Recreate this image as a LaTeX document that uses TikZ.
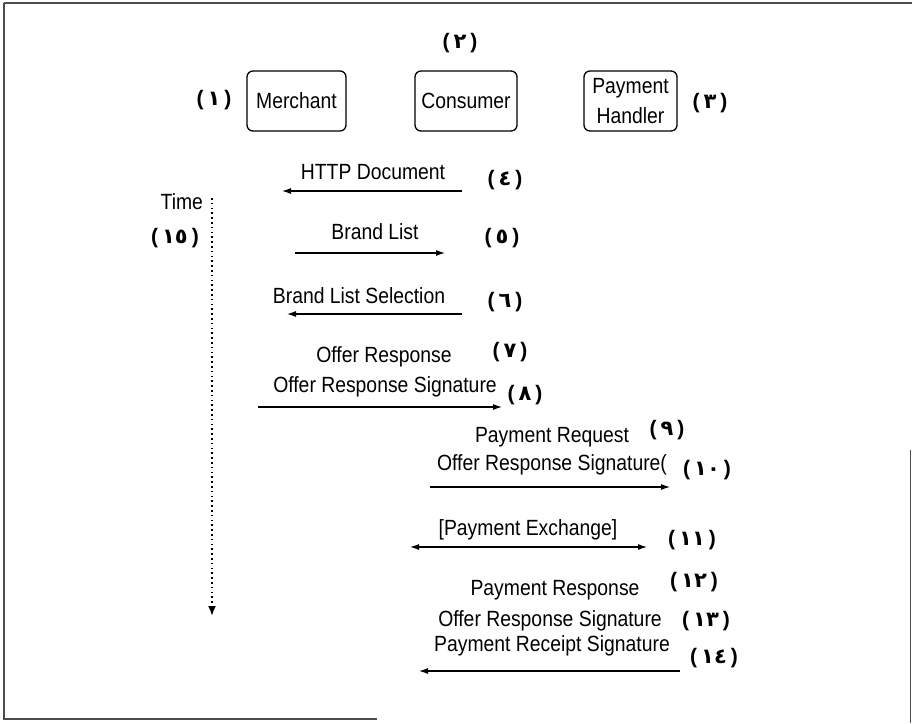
\documentclass[tikz,border=0pt]{standalone}
\usepackage{fontspec}
\setmainfont{Liberation Sans}
\newfontfamily\condfont[FakeStretch=0.88]{Liberation Sans}
\newfontfamily\labfont[Script=Arabic]{DejaVu Sans}
\usetikzlibrary{arrows.meta}
% numbered tag such as (12) in Arabic-Indic digits
\newcommand\tagnum[1]{\textbf{(}\hspace{4pt}{\labfont\bfseries #1}\hspace{4pt}\textbf{)}}
\begin{document}
\begin{tikzpicture}[x=1pt,y=-1pt,
  every node/.style={inner sep=0pt,outer sep=0pt},
  txt/.style={font=\condfont\fontsize{22}{25}\selectfont},
  tag/.style={font=\fontsize{21}{24}\selectfont},
  actor/.style={draw,line width=1.3pt,rounded corners=6pt,minimum height=60pt,align=center,font=\condfont\fontsize{22}{30}\selectfont},
  msg/.style={line width=1.1pt,-{Latex[length=9pt,width=6pt]}},
  both/.style={line width=1.1pt,{Latex[length=9pt,width=6pt]}-{Latex[length=9pt,width=6pt]}},
  frame/.style={line width=1.2pt,draw=black!70}]
\useasboundingbox (0,0) rectangle (912,723);
% page frame
\draw[frame] (4,3) -- (912,3);
\draw[frame] (4,3) -- (4,719) -- (377,719);
\draw[frame] (910.5,450) -- (910.5,723);

% participants
\node[actor,minimum width=99pt] (merchant) at (296.5,101) {Merchant};
\node[actor,minimum width=102pt] (consumer) at (466,101) {Consumer};
\node[actor,minimum width=93pt] (handler) at (630.5,101) {Payment\\Handler};
\node[tag] (t1) at (214,100) {\tagnum{١}};
\node[tag] (t2) at (460,43) {\tagnum{٢}};
\node[tag] (t3) at (710,103) {\tagnum{٣}};

% time axis
\node[txt,anchor=east] (time) at (203,202) {Time};
\node[tag] (t15) at (175,238) {\tagnum{١٥}};
\coordinate (ts) at (212,198);
\coordinate (te) at (212,616);
\draw[line width=1.8pt,dash pattern=on 1.6pt off 3.2pt,-{Latex[length=10pt,width=8pt]}] (ts) -- (te);

% messages
\node[txt] (m4) at (373,172) {HTTP Document};
\node[tag] (t4) at (505,180) {\tagnum{٤}};
\coordinate (a4s) at (462,191); \coordinate (a4e) at (282,191);
\draw[msg] (a4s) -- (a4e);

\node[txt] (m5) at (375,232) {Brand List};
\node[tag] (t5) at (502,238) {\tagnum{٥}};
\coordinate (a5s) at (295,253); \coordinate (a5e) at (445,253);
\draw[msg] (a5s) -- (a5e);

\node[txt] (m6) at (359,296) {Brand List Selection};
\node[tag] (t6) at (505,302) {\tagnum{٦}};
\coordinate (a6s) at (462,314); \coordinate (a6e) at (287,314);
\draw[msg] (a6s) -- (a6e);

\node[txt] (m7) at (384,357) {Offer Response};
\node[tag] (t7) at (510,352) {\tagnum{٧}};
\node[txt] (m8) at (385,387) {Offer Response Signature};
\node[tag] (t8) at (525,395) {\tagnum{٨}};
\coordinate (a8s) at (258,407); \coordinate (a8e) at (502,407);
\draw[msg] (a8s) -- (a8e);

\node[txt] (m9) at (552,437) {Payment Request};
\node[tag] (t9) at (667,430) {\tagnum{٩}};
\node[txt] (m10) at (552,465) {Offer Response Signature(};
\node[tag] (t10) at (707,470) {\tagnum{١٠}};
\coordinate (a10s) at (430,487); \coordinate (a10e) at (670,487);
\draw[msg] (a10s) -- (a10e);

\node[txt] (m11) at (528,530) {[Payment Exchange]};
\node[tag] (t11) at (692,540) {\tagnum{١١}};
\coordinate (a11s) at (410,547); \coordinate (a11e) at (647,547);
\draw[both] (a11s) -- (a11e);

\node[txt] (m12) at (555,590) {Payment Response};
\node[tag] (t12) at (694,582) {\tagnum{١٢}};
\node[txt] (m13) at (550,621) {Offer Response Signature};
\node[tag] (t13) at (706,621) {\tagnum{١٣}};
\node[txt] (m14) at (552,646) {Payment Receipt Signature};
\node[tag] (t14) at (714,658) {\tagnum{١٤}};
\coordinate (a14s) at (680,671); \coordinate (a14e) at (419,671);
\draw[msg] (a14s) -- (a14e);
\end{tikzpicture}
\end{document}
